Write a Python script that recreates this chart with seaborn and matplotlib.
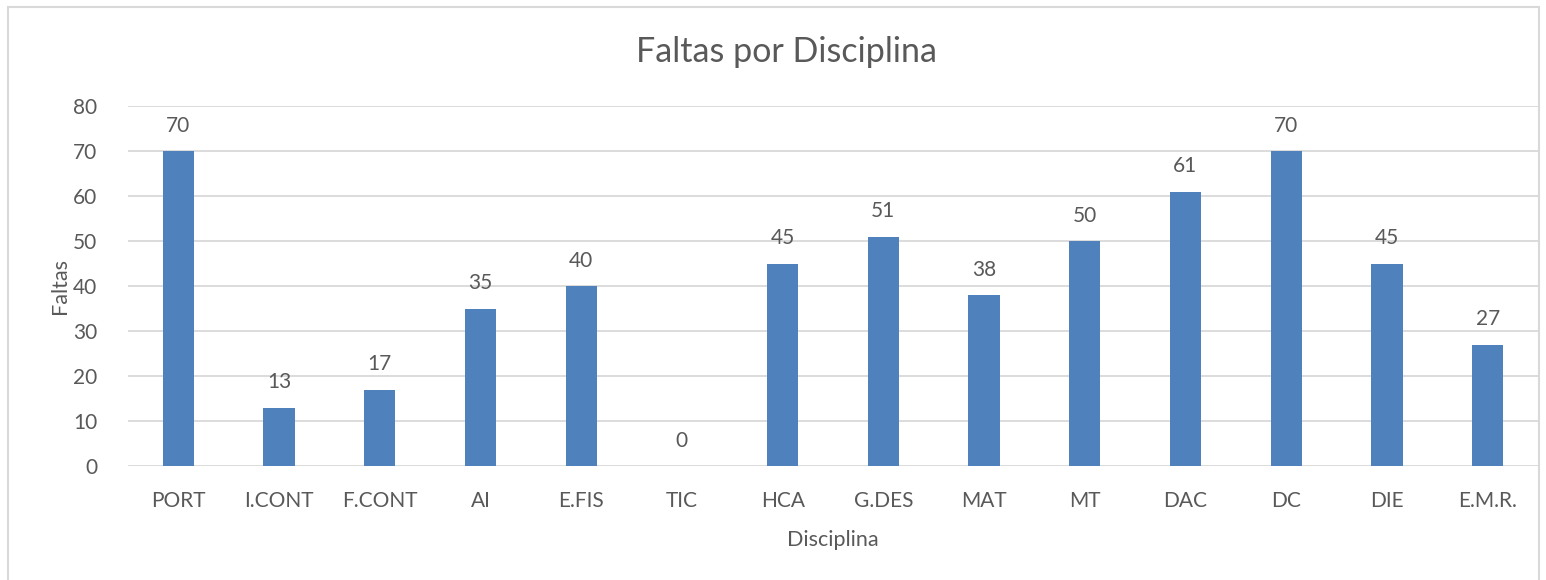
import matplotlib
matplotlib.use("Agg")
import matplotlib.pyplot as plt
import seaborn as sns
import pandas as pd
from matplotlib.patches import Rectangle

# --- data ---
disciplinas = ['PORT', 'I.CONT', 'F.CONT', 'AI', 'E.FIS', 'TIC', 'HCA',
               'G.DES', 'MAT', 'MT', 'DAC', 'DC', 'DIE', 'E.M.R.']
faltas = [70, 13, 17, 35, 40, 0, 45, 51, 38, 50, 61, 70, 45, 27]
y_ticks = [0, 10, 20, 30, 40, 50, 60, 70, 80]

df = pd.DataFrame({'Disciplina': disciplinas, 'Faltas': faltas})

sns.set_theme(style="white")
plt.rcParams['font.family'] = ['Lato', 'DejaVu Sans']
txt = '#595959'
grid = '#D9D9D9'

W, H = 1546, 580
fig = plt.figure(figsize=(W / 100, H / 100), dpi=100)
ax = fig.add_axes([128 / W, (H - 466) / H, (1538 - 128) / W, (466 - 106) / H])

sns.barplot(data=df, x='Disciplina', y='Faltas', color='#4F81BD',
            width=0.31, saturation=1, linewidth=0, ax=ax, zorder=3)

ax.set_ylim(0, 80)
ax.set_yticks(y_ticks)
ax.yaxis.grid(True, color=grid, linewidth=1.3, zorder=0)
ax.set_axisbelow(True)
for s in ax.spines.values():
    s.set_visible(False)
ax.tick_params(axis='both', length=0, labelsize=15, labelcolor=txt)
ax.tick_params(axis='y', pad=22)
ax.tick_params(axis='x', pad=18)

ax.bar_label(ax.containers[0], padding=11, fontsize=15, color=txt)

ax.set_xlabel('Disciplina', fontsize=15.5, color=txt, labelpad=14)
ax.set_ylabel('Faltas', fontsize=15.5, color=txt, labelpad=2)
fig.text((639 + 935) / 2 / W, 1 - 52 / H, 'Faltas por Disciplina',
         ha='center', va='center', fontsize=24.5, color=txt)

# light frame round the chart
fig.patches.append(Rectangle((8 / W, -0.01), (1539 - 8) / W, (H - 7) / H + 0.01,
                             transform=fig.transFigure, fill=False,
                             edgecolor=grid, linewidth=1.5))

fig.savefig('out.png', dpi=100, facecolor='white')
